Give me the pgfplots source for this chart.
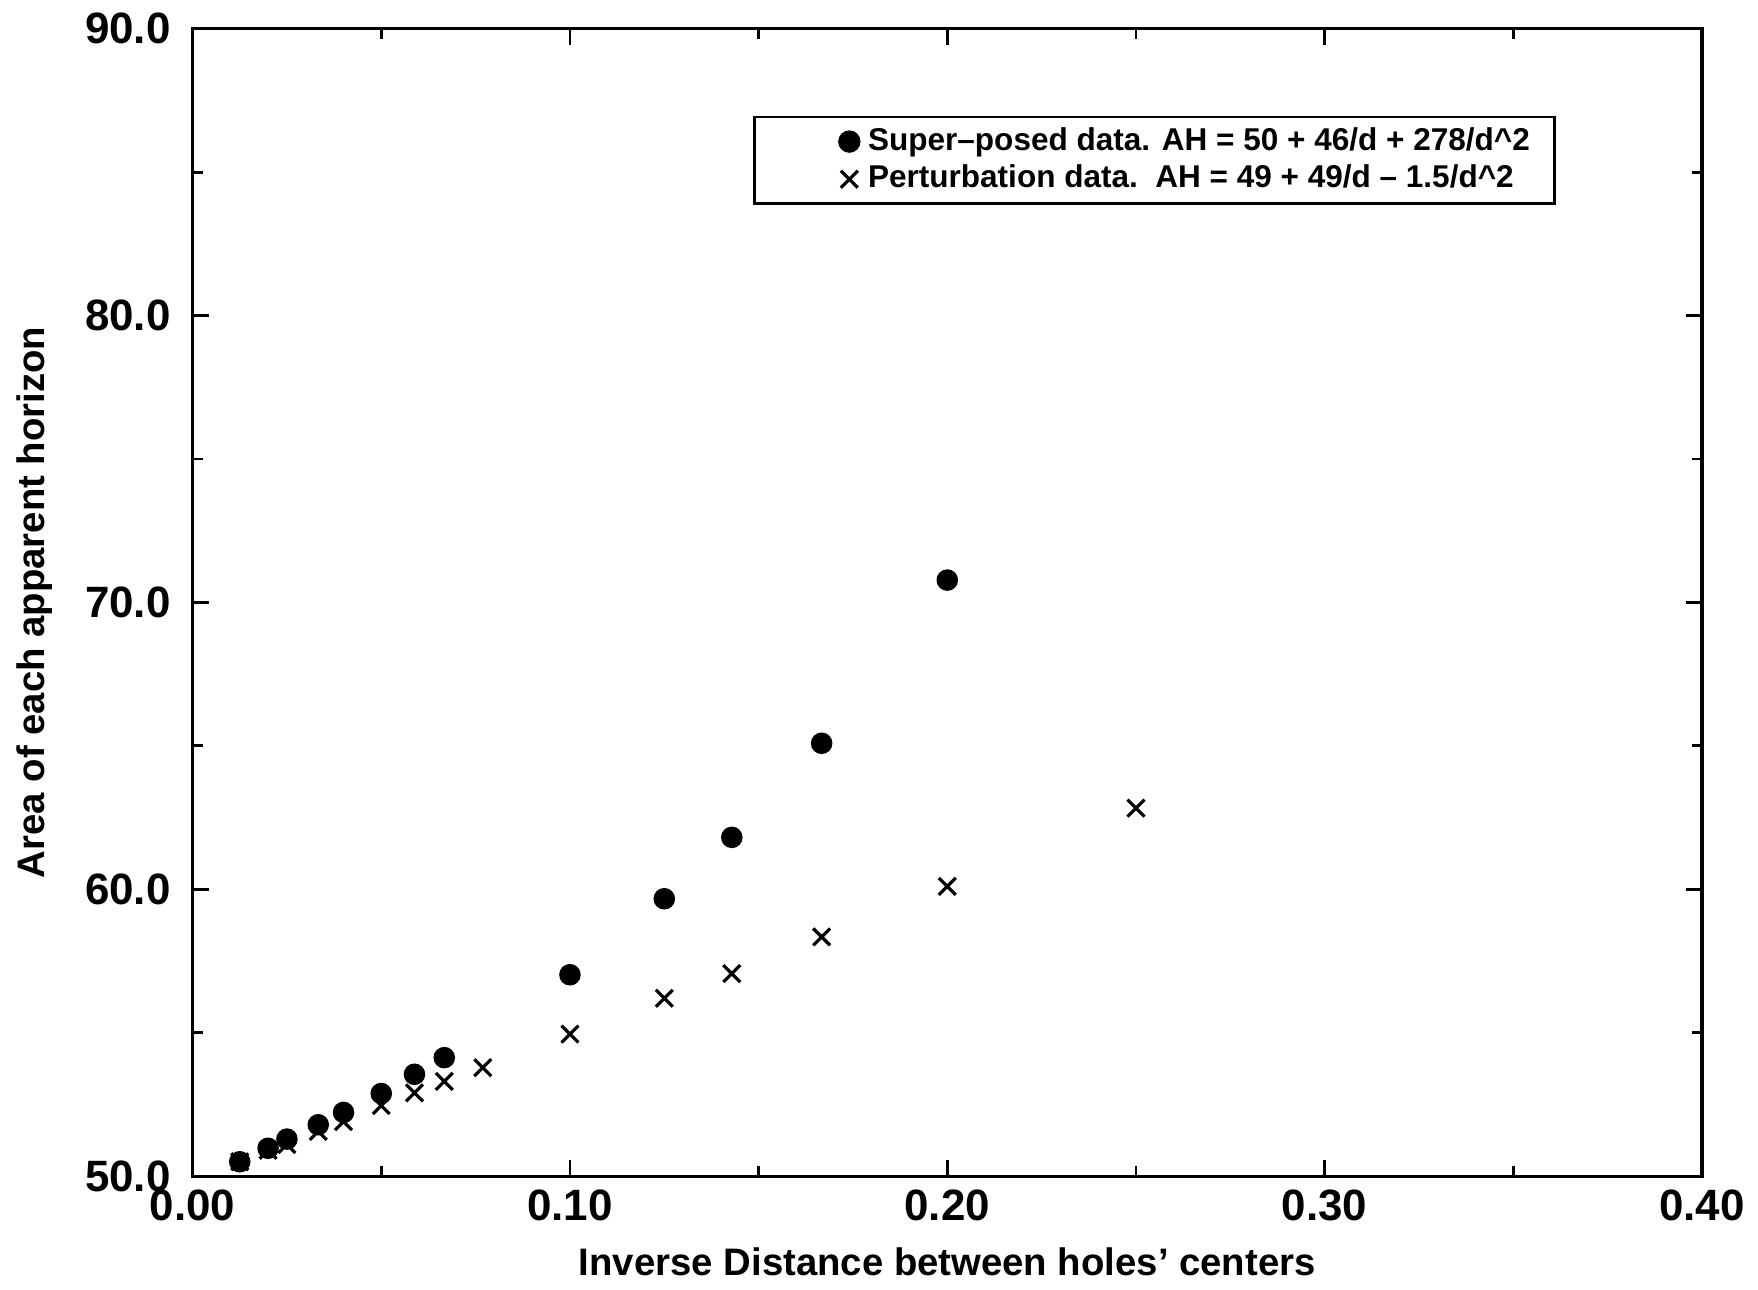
\documentclass[border=0pt]{standalone}
\usepackage{fontspec}
\setmainfont{Liberation Sans}
\usepackage{pgfplots}
\pgfplotsset{compat=1.18}
\begin{document}
\begin{tikzpicture}
\begin{axis}[
  scale only axis,
  width=378.25pt, height=287.5pt,
  xmin=0, xmax=0.4, ymin=50, ymax=90,
  xtick={0,0.1,0.2,0.3,0.4},
  ytick={50,60,70,80,90},
  minor xtick={0.05,0.15,0.25,0.35},
  minor ytick={55,65,75,85},
  tick align=inside,
  major tick length=4pt,
  minor tick length=2.5pt,
  axis line style={line width=0.8pt},
  every tick/.style={black, line width=0.7pt},
  /pgf/number format/assume math mode=true,
  ticklabel style={font=\fontsize{11}{13}\selectfont\bfseries},
  xticklabel style={/pgf/number format/fixed, /pgf/number format/fixed zerofill, /pgf/number format/precision=2},
  yticklabel style={/pgf/number format/fixed, /pgf/number format/fixed zerofill, /pgf/number format/precision=1, xshift=-2pt},
  xlabel={Inverse Distance between holes' centers},
  ylabel={Area of each apparent horizon},
  label style={font=\fontsize{9.6}{11}\selectfont\bfseries},
  xlabel style={at={(axis description cs:0.5,-0.0748)}, anchor=center},
  ylabel style={at={(axis description cs:-0.105,0.5)}, anchor=center},
  legend style={at={(0.3714,0.924)}, anchor=north west, draw=black, line width=0.6pt,
    fill=white, inner xsep=4pt, inner ysep=0.3pt, row sep=-2.2pt,
    font=\fontsize{7.9}{9}\selectfont\bfseries,
    nodes={inner sep=2.2pt}},
  legend cell align=left,
  legend image code/.code={\path (0pt,0pt) (20pt,0pt); \draw[#1] plot coordinates {(19.5pt,0pt)};},
  clip=false,
]
\addplot[only marks, mark=*, mark size=2.5pt, color=black] coordinates {
  (0.0125,50.5)(0.02,50.97)(0.025,51.29)(0.0333,51.79)(0.04,52.22)(0.05,52.88)
  (0.0588,53.55)(0.0667,54.13)(0.1,57.02)(0.125,59.67)(0.1429,61.81)(0.1667,65.09)
  (0.2,70.78)(0.25,84.3)
};
\addlegendentry{Super--posed data. AH = 50 + 46/d + 278/d\textasciicircum 2}
\addplot[only marks, mark=x, mark size=3pt, color=black, mark options={line width=0.8pt}] coordinates {
  (0.0125,50.5)(0.02,50.9)(0.025,51.1)(0.0333,51.56)(0.04,51.9)(0.05,52.46)
  (0.0588,52.9)(0.0667,53.3)(0.0769,53.78)(0.1,54.95)(0.125,56.2)(0.1429,57.06)
  (0.1667,58.34)(0.2,60.1)(0.25,62.83)
};
\addlegendentry{Perturbation data.\ \ AH = 49 + 49/d -- 1.5/d\textasciicircum 2}
\coordinate (bl) at (rel axis cs:-0.1276,-0.0957);
\coordinate (tr) at (rel axis cs:1.0344,1.0217);
\end{axis}
\path (bl) rectangle (tr);
\end{tikzpicture}
\end{document}
